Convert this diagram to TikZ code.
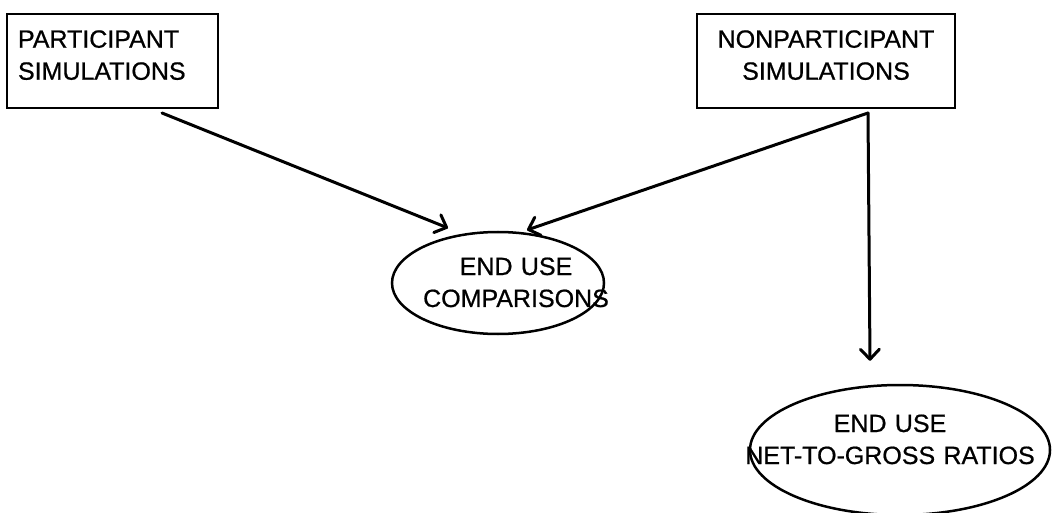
\documentclass[tikz,border=0pt]{standalone}
\usepackage{fontspec}
\setmainfont{Liberation Sans}
\newfontfamily\dgfont{Liberation Sans}[FakeBold=0.7]
\usetikzlibrary{arrows.meta,shapes.geometric,calc}
\newcommand\dfs{\dgfont\fontsize{25pt}{32pt}\selectfont}
\begin{document}
\begin{tikzpicture}[x=1pt,y=-1pt,
  box/.style={draw, line width=2pt, rectangle, font=\dfs, inner sep=4pt, minimum height=94pt},
  oval/.style={draw, ellipse, line width=2.5pt, inner sep=0pt},
  txt/.style={font=\dfs, inner sep=0pt, align=center},
  link/.style={line width=3pt, line cap=round, -{Straight Barb[length=10pt,width=19pt,line cap=round,line join=round]}}]
\useasboundingbox (0,0) rectangle (1052,513);
\node[box, minimum width=211pt, text width=189pt, align=left] (ps) at (112.5,61)
  {PARTICIPANT\\SIMULATIONS\rule[-12pt]{0pt}{12pt}};
\node[box, minimum width=258pt, text width=236pt, align=center] (ns) at (826,61)
  {NONPARTICIPANT\\SIMULATIONS\rule[-12pt]{0pt}{12pt}};
\node[oval, minimum width=212pt, minimum height=102pt] (cmp) at (498,283) {};
\node[txt, text width=240pt, anchor=base] (cmpt) at (516,275) {END USE\\COMPARISONS};
\node[oval, minimum width=300pt, minimum height=130pt] (ntg) at (900,450) {};
\node[txt, text width=320pt, anchor=base] (ntgt) at (890,432) {END USE\\NET-TO-GROSS RATIOS};
\coordinate (a1) at ([xshift=49.5pt,yshift=-4pt]ps.south);
\coordinate (fork) at ([xshift=42pt,yshift=-4pt]ns.south);
\draw[link] (a1) -- ($(cmp.center)+(-50,-55)$);
\draw[link] (fork) -- ($(cmp.center)+(29,-53)$);
\draw[link] (fork) -- ($(ntg.north)+(-30,-23)$);
\end{tikzpicture}
\end{document}
